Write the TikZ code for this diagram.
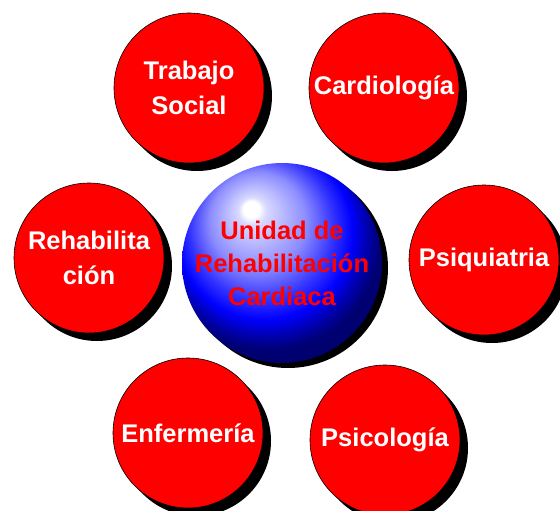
\documentclass[tikz,border=0pt]{standalone}
\usepackage{fontspec}
\setmainfont{Liberation Sans}
\usetikzlibrary{shadows}
\pgfdeclareradialshading{sphere}{\pgfpoint{-8bp}{14bp}}{%
  color(0bp)=(white); color(2bp)=(white); color(3.5bp)=(blue!15!white);
  color(12bp)=(blue!45!white); color(18bp)=(blue!80!white); color(22bp)=(blue);
  color(25bp)=(blue!70!black); color(28bp)=(blue!45!black); color(50bp)=(blue!30!black)}
\begin{document}
\begin{tikzpicture}[x=1pt,y=-1pt,
  redball/.style={circle, draw=black, line width=0.6pt, fill=red, minimum size=150pt, inner sep=0pt,
    text=white, font=\bfseries\fontsize{25.5}{35}\selectfont, align=center,
    drop shadow={shadow xshift=8pt, shadow yshift=-8pt, fill=black, opacity=1}},
  hub/.style={circle, minimum size=200pt, inner sep=0pt, shading=sphere, text=red,
    font=\bfseries\fontsize{25.5}{33}\selectfont, align=center,
    drop shadow={shadow xshift=6pt, shadow yshift=-5pt, fill=black, opacity=1}}]
\useasboundingbox (0,0) rectangle (560,511);
\node[redball] (ts) at (189,88) {Trabajo\\Social};
\node[redball] (card) at (384,88) {Cardiología};
\node[redball] (rehab) at (89,258) {Rehabilita\\ción};
\node[redball] (psiq) at (484,260) {Psiquiatria};
\node[redball] (enf) at (188,433) {Enfermería};
\node[redball] (psic) at (385,440) {Psicología};
\node[hub] (hub) at (282,263) {Unidad de\\Rehabilitación\\Cardiaca};
\end{tikzpicture}
\end{document}
